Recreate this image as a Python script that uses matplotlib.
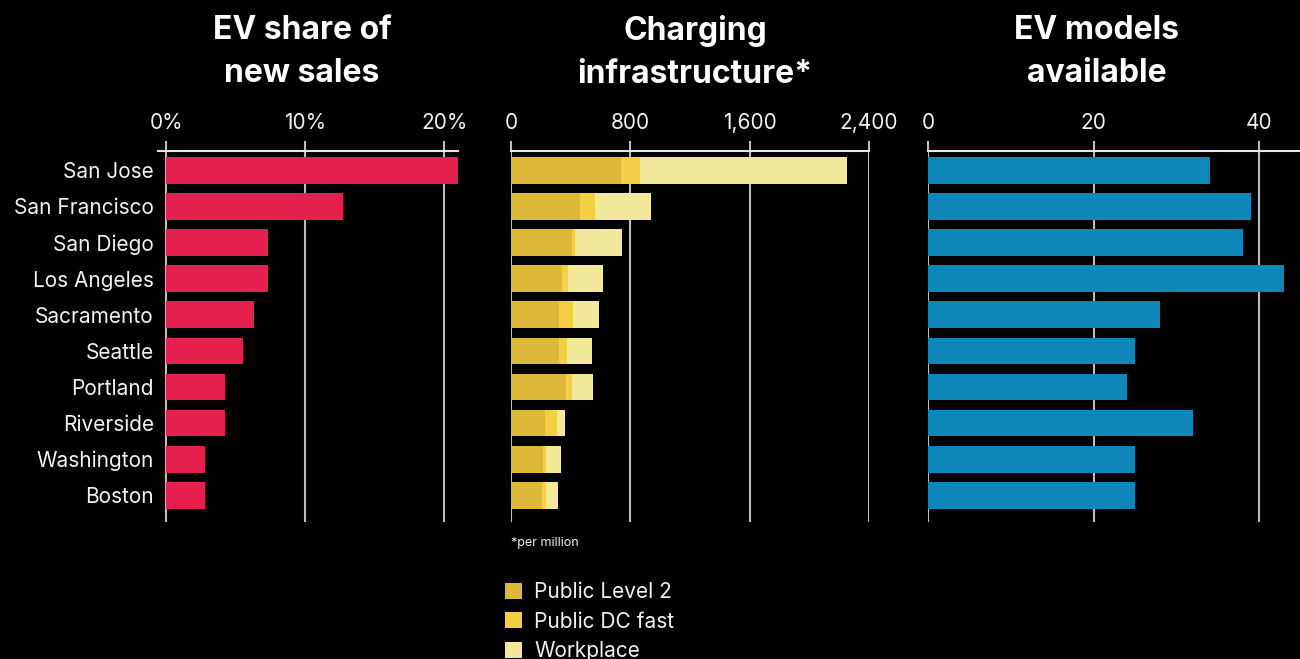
import matplotlib.pyplot as plt
from matplotlib.patches import Patch
from matplotlib.ticker import FuncFormatter

plt.rcParams['font.family'] = ['Inter', 'DejaVu Sans']

cities = ["San Jose", "San Francisco", "San Diego", "Los Angeles", "Sacramento",
          "Seattle", "Portland", "Riverside", "Washington", "Boston"]

# EV share of new sales (%)
ev_share = [21.0, 12.7, 7.3, 7.3, 6.3, 5.5, 4.2, 4.2, 2.8, 2.8]

# Chargers per million residents
public_level2 = [737, 462, 409, 342, 322, 322, 369, 228, 214, 208]
public_dc_fast = [128, 101, 20, 40, 94, 53, 40, 80, 21, 27]
workplace = [1387, 375, 315, 235, 174, 168, 141, 54, 100, 80]

# Number of EV models available
ev_models = [34, 39, 38, 43, 28, 25, 24, 32, 25, 25]

RED = "#E51F4E"
BLUE = "#0E86B9"
GOLD_L2 = "#DDB83A"
GOLD_DC = "#F3CF45"
GOLD_WP = "#F1E899"
GRID = "#BDBDBD"
TEXT = "#F2F2F2"

fig = plt.figure(figsize=(13, 6.59), dpi=100, facecolor="black")

bottom, height = 0.2083, 0.5626
ax1 = fig.add_axes([0.12154, bottom, 0.23077, height])
ax2 = fig.add_axes([0.39308, bottom, 0.27538, height])
ax3 = fig.add_axes([0.71385, bottom, 0.28615, height])

ypos = list(range(len(cities)))
bar_h = 0.74


def style(ax, xlim, ticks, fmt):
    ax.set_facecolor("black")
    ax.set_xlim(*xlim)
    ax.set_ylim(len(cities) - 1 + 0.73, -0.535)
    for side in ("left", "right", "bottom"):
        ax.spines[side].set_visible(False)
    ax.spines["top"].set_color("#E6E6E6")
    ax.spines["top"].set_linewidth(1.5)
    ax.xaxis.tick_top()
    ax.set_xticks(ticks)
    ax.xaxis.set_major_formatter(FuncFormatter(fmt))
    ax.tick_params(axis="x", length=7, width=1.5, color=GRID, pad=6,
                   labelsize=15, labelcolor=TEXT)
    ax.grid(axis="x", color=GRID, linewidth=1.5)
    ax.set_axisbelow(True)
    ax.set_yticks(ypos)
    ax.tick_params(axis="y", length=0)


# EV share panel
style(ax1, (-0.6, 21.0), [0, 10, 20], lambda v, p: f"{v:.0f}%")
ax1.barh(ypos, ev_share, height=bar_h, color=RED)
ax1.set_yticklabels(cities, fontsize=15, color=TEXT)
ax1.tick_params(axis="y", pad=3)

# Charging infrastructure panel (stacked)
style(ax2, (0, 2400), [0, 800, 1600, 2400], lambda v, p: f"{v:,.0f}")
left_dc = public_level2
left_wp = [a + b for a, b in zip(public_level2, public_dc_fast)]
ax2.barh(ypos, public_level2, height=bar_h, color=GOLD_L2)
ax2.barh(ypos, public_dc_fast, left=left_dc, height=bar_h, color=GOLD_DC)
ax2.barh(ypos, workplace, left=left_wp, height=bar_h, color=GOLD_WP)
ax2.set_yticklabels([])

# EV models panel
style(ax3, (0, 44.9), [0, 20, 40], lambda v, p: f"{v:.0f}")
ax3.barh(ypos, ev_models, height=bar_h, color=BLUE)
ax3.set_yticklabels([])

# Panel titles
title_kw = dict(ha="center", va="center", fontsize=23, fontweight="bold",
                color="white", linespacing=1.5)
fig.text(0.2323, 0.921, "EV share of\nnew sales", **title_kw)
fig.text(0.5346, 0.921, "Charging\ninfrastructure*", **title_kw)
fig.text(0.8438, 0.921, "EV models\navailable", **title_kw)

fig.text(0.3931, 0.176, "*per million", fontsize=9, color=TEXT, va="center")

handles = [Patch(facecolor=GOLD_L2, label="Public Level 2"),
           Patch(facecolor=GOLD_DC, label="Public DC fast"),
           Patch(facecolor=GOLD_WP, label="Workplace")]
leg = fig.legend(handles=handles, loc="upper left", bbox_to_anchor=(0.3885, 0.117),
                 bbox_transform=fig.transFigure, frameon=False, fontsize=15,
                 handlelength=0.8, handleheight=0.8, handletextpad=0.6,
                 labelspacing=0.47, borderpad=0, borderaxespad=0)
for t in leg.get_texts():
    t.set_color(TEXT)

fig.savefig("out.png", dpi=100, facecolor="black")
